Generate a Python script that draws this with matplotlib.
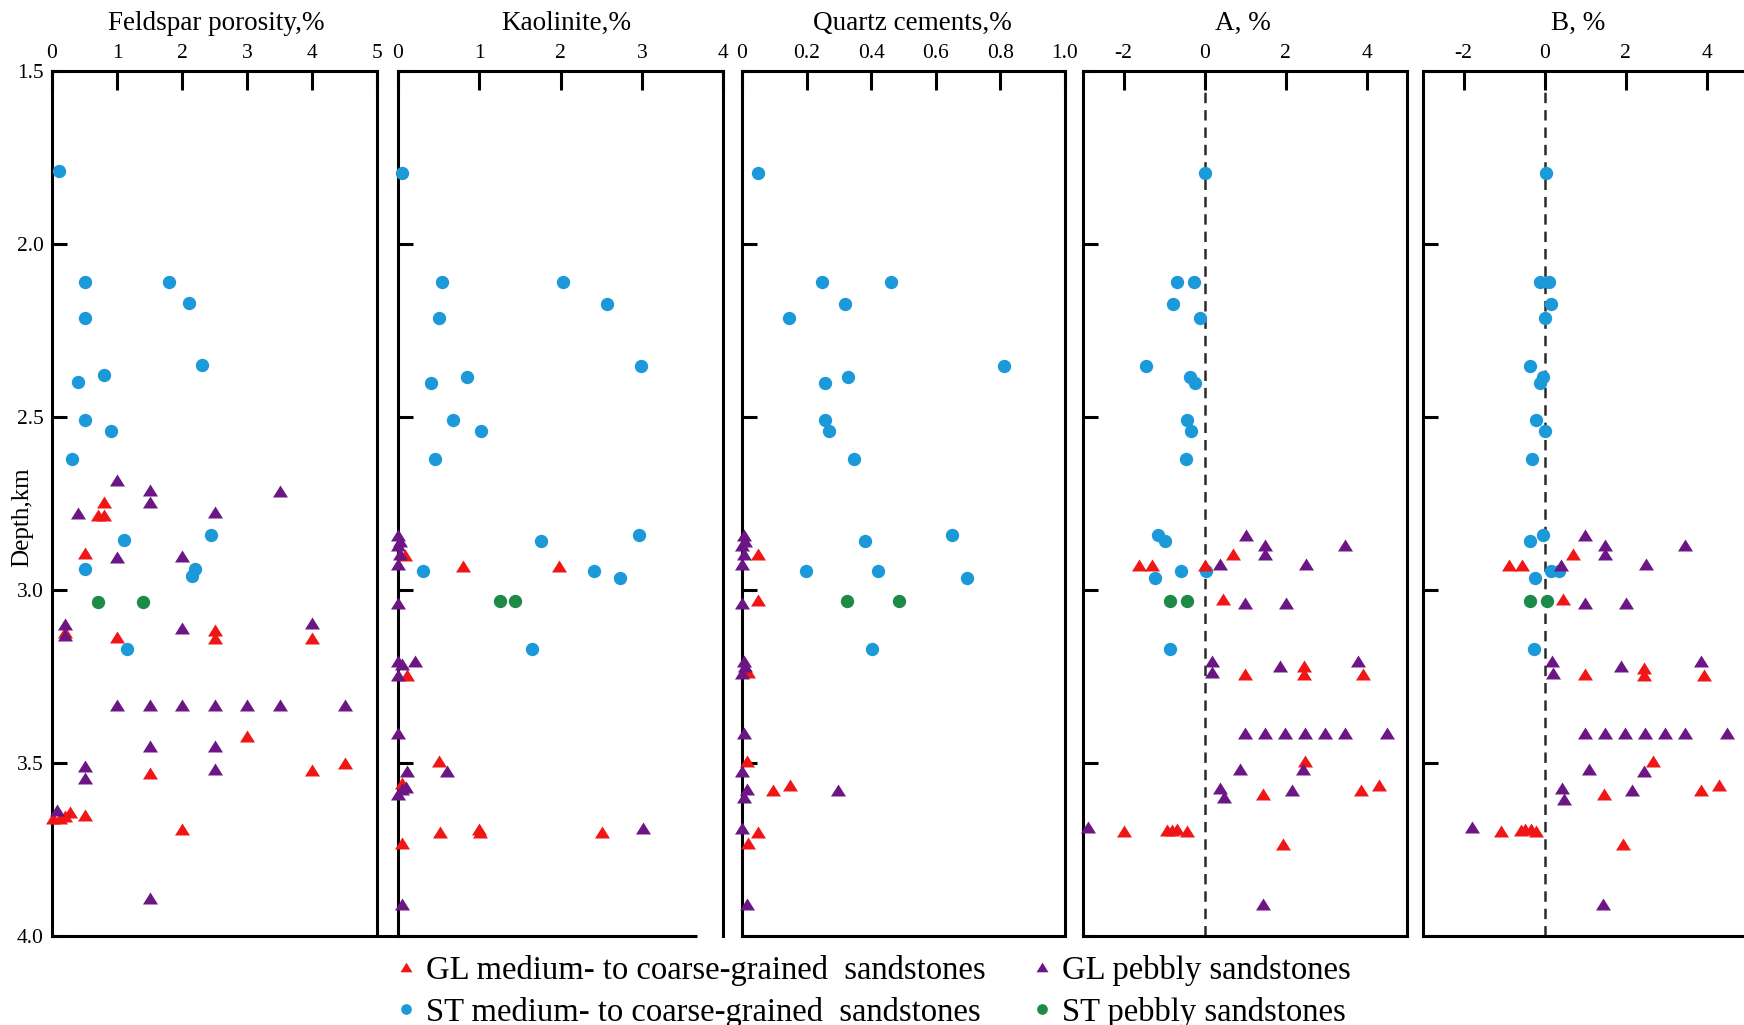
import matplotlib
matplotlib.use("Agg")
import matplotlib.pyplot as plt
from matplotlib.lines import Line2D

FONT = 'Liberation Serif'
plt.rcParams['font.family'] = FONT
plt.rcParams['lines.scale_dashes'] = False

W, H, DPI = 1744, 1025, 100

C_GL_MED = '#f01616'
C_GL_PEB = '#6c1584'
C_ST_MED = '#1c99d9'
C_ST_PEB = '#1d8b47'

# ---- Data: (depth km, value) pairs -------------------------------------
FELD_ST_MED = [(1.79, 0.1), (2.11, 0.5), (2.11, 1.8), (2.17, 2.1), (2.215, 0.5),
               (2.35, 2.3), (2.38, 0.8), (2.40, 0.4), (2.51, 0.5), (2.54, 0.9),
               (2.62, 0.3), (2.84, 2.45), (2.855, 1.1), (2.94, 0.5), (2.94, 2.2),
               (2.96, 2.15), (3.17, 1.15)]
FELD_ST_PEB = [(3.035, 0.7), (3.035, 1.4)]
FELD_GL_MED = [(2.745, 0.8), (2.783, 0.7), (2.783, 0.8), (2.894, 0.5), (3.12, 0.2),
               (3.137, 1.0), (3.116, 2.5), (3.140, 2.5), (3.140, 4.0), (3.422, 3.0),
               (3.530, 1.5), (3.520, 4.0), (3.501, 4.5), (3.658, 0.02), (3.658, 0.12),
               (3.652, 0.2), (3.642, 0.28), (3.650, 0.5), (3.69, 2.0)]
FELD_GL_PEB = [(2.682, 1.0), (2.711, 1.5), (2.745, 1.5), (2.713, 3.5), (2.778, 0.4),
               (2.774, 2.5), (2.904, 1.0), (2.902, 2.0), (3.098, 0.2), (3.130, 0.2),
               (3.111, 2.0), (3.094, 4.0), (3.332, 1.0), (3.332, 1.5), (3.332, 2.0),
               (3.332, 2.5), (3.332, 3.0), (3.332, 3.5), (3.332, 4.5), (3.451, 1.5),
               (3.451, 2.5), (3.509, 0.5), (3.543, 0.5), (3.518, 2.5), (3.636, 0.08),
               (3.891, 1.5)]

KAO_ST_MED = [(1.795, 0.05), (2.109, 0.54), (2.109, 2.03), (2.174, 2.57), (2.215, 0.50),
              (2.354, 2.99), (2.383, 0.85), (2.402, 0.41), (2.510, 0.68), (2.540, 1.02),
              (2.621, 0.46), (2.841, 2.97), (2.857, 1.76), (2.944, 0.31), (2.944, 2.41),
              (2.964, 2.73), (3.170, 1.65)]
KAO_ST_PEB = [(3.033, 1.26), (3.033, 1.44)]
KAO_GL_MED = [(2.90, 0.08), (2.932, 0.80), (2.932, 1.98), (3.245, 0.11), (3.494, 0.50),
              (3.558, 0.05), (3.700, 0.52), (3.692, 1.0), (3.700, 1.01), (3.700, 2.51),
              (3.732, 0.05)]
KAO_GL_PEB = [(2.841, 0.0), (2.857, 0.02), (2.871, 0.0), (2.895, 0.03), (2.924, 0.0),
              (3.037, 0.0), (3.205, 0.0), (3.215, 0.05), (3.205, 0.21), (3.245, 0.0),
              (3.414, 0.0), (3.523, 0.11), (3.523, 0.6), (3.575, 0.05), (3.570, 0.1),
              (3.590, 0.0), (3.687, 3.02), (3.907, 0.05)]

QTZ_ST_MED = [(1.795, 0.049), (2.109, 0.247), (2.109, 0.461), (2.174, 0.319), (2.215, 0.144),
              (2.354, 0.812), (2.383, 0.329), (2.402, 0.257), (2.510, 0.257), (2.540, 0.27),
              (2.621, 0.348), (2.841, 0.651), (2.857, 0.381), (2.944, 0.198), (2.944, 0.42),
              (2.964, 0.698), (3.170, 0.402)]
QTZ_ST_PEB = [(3.033, 0.324), (3.033, 0.487)]
QTZ_GL_MED = [(2.897, 0.05), (3.029, 0.05), (3.237, 0.02), (3.494, 0.015), (3.563, 0.15),
              (3.579, 0.097), (3.700, 0.05), (3.732, 0.02)]
QTZ_GL_PEB = [(2.841, 0.005), (2.857, 0.01), (2.871, 0.0), (2.895, 0.005), (2.924, 0.0),
              (3.037, 0.0), (3.205, 0.005), (3.22, 0.01), (3.24, 0.0), (3.414, 0.005),
              (3.523, 0.0), (3.575, 0.015), (3.598, 0.005), (3.579, 0.298), (3.687, 0.0),
              (3.907, 0.015)]

A_ST_MED = [(1.795, 0.0), (2.109, -0.67), (2.109, -0.25), (2.174, -0.78), (2.215, -0.12),
            (2.354, -1.45), (2.383, -0.37), (2.402, -0.24), (2.510, -0.43), (2.540, -0.34),
            (2.621, -0.45), (2.841, -1.14), (2.857, -0.98), (2.944, -0.59), (2.944, 0.03),
            (2.964, -1.21), (3.170, -0.86)]
A_ST_PEB = [(3.033, -0.84), (3.033, -0.44)]
A_GL_MED = [(2.929, -1.62), (2.929, -1.29), (2.929, 0.0), (2.895, 0.70), (3.025, 0.45),
            (3.242, 0.99), (3.221, 2.45), (3.242, 2.45), (3.242, 3.92), (3.494, 2.49),
            (3.590, 1.45), (3.579, 3.87), (3.563, 4.32), (3.697, -2.0), (3.695, -0.92),
            (3.695, -0.80), (3.690, -0.69), (3.697, -0.44), (3.735, 1.93)]
A_GL_PEB = [(2.841, 1.03), (2.871, 1.50), (2.895, 1.50), (2.871, 3.47), (2.924, 0.39),
            (2.924, 2.51), (3.037, 0.99), (3.037, 2.01), (3.205, 0.19), (3.237, 0.19),
            (3.221, 1.87), (3.205, 3.80), (3.414, 1.01), (3.414, 1.50), (3.414, 1.99),
            (3.414, 2.49), (3.414, 2.98), (3.414, 3.47), (3.414, 4.50), (3.518, 0.87),
            (3.518, 2.42), (3.572, 0.39), (3.598, 0.48), (3.579, 2.16), (3.684, -2.87),
            (3.907, 1.45)]

B_ST_MED = [(1.795, 0.04), (2.109, -0.1), (2.109, 0.1), (2.174, 0.16), (2.215, 0.02),
            (2.354, -0.36), (2.383, -0.04), (2.402, -0.12), (2.510, -0.2), (2.540, 0.0),
            (2.621, -0.3), (2.841, -0.03), (2.857, -0.37), (2.944, 0.15), (2.944, 0.35),
            (2.964, -0.24), (3.170, -0.26)]
B_ST_PEB = [(3.033, -0.36), (3.033, 0.07)]
B_GL_MED = [(2.929, -0.88), (2.929, -0.55), (2.897, 0.70), (3.025, 0.45), (3.242, 0.99),
            (3.224, 2.45), (3.245, 2.45), (3.245, 3.94), (3.494, 2.68), (3.590, 1.46),
            (3.579, 3.87), (3.563, 4.32), (3.697, -1.08), (3.695, -0.59), (3.690, -0.47),
            (3.690, -0.34), (3.697, -0.22), (3.735, 1.93)]
B_GL_PEB = [(2.841, 1.01), (2.871, 1.49), (2.895, 1.49), (2.871, 3.47), (2.929, 0.41),
            (2.924, 2.50), (3.037, 0.99), (3.037, 2.01), (3.205, 0.19), (3.240, 0.21),
            (3.221, 1.88), (3.205, 3.86), (3.414, 0.99), (3.414, 1.50), (3.414, 1.99),
            (3.414, 2.49), (3.414, 2.98), (3.414, 3.47), (3.414, 4.50), (3.518, 1.11),
            (3.523, 2.45), (3.572, 0.43), (3.603, 0.49), (3.579, 2.17), (3.684, -1.78),
            (3.907, 1.45)]

DEPTH_TICKS = [1.5, 2.0, 2.5, 3.0, 3.5, 4.0]
DEPTH_LABELS = ['1.5', '2.0', '2.5', '3.0', '3.5', '4.0']

TITLES = ['Feldspar porosity,%', 'Kaolinite,%', 'Quartz cements,%', 'A, %', 'B, %']
XLIMS = [(0, 5), (0, 4), (0, 1.0), (-3, 5), (-3, 5)]
XTICKS = [[0, 1, 2, 3, 4, 5], [0, 1, 2, 3, 4], [0, 0.2, 0.4, 0.6, 0.8, 1.0],
          [-2, 0, 2, 4], [-2, 0, 2, 4]]
XTICKLABELS = [['0', '1', '2', '3', '4', '5'], ['0', '1', '2', '3', '4'],
               ['0', '0.2', '0.4', '0.6', '0.8', '1.0'],
               ['-2', '0', '2', '4'], ['-2', '0', '2', '4']]
SERIES = [
    (FELD_ST_MED, FELD_ST_PEB, FELD_GL_MED, FELD_GL_PEB),
    (KAO_ST_MED, KAO_ST_PEB, KAO_GL_MED, KAO_GL_PEB),
    (QTZ_ST_MED, QTZ_ST_PEB, QTZ_GL_MED, QTZ_GL_PEB),
    (A_ST_MED, A_ST_PEB, A_GL_MED, A_GL_PEB),
    (B_ST_MED, B_ST_PEB, B_GL_MED, B_GL_PEB),
]

LEGEND_LABELS = ['GL medium- to coarse-grained  sandstones',
                 'ST medium- to coarse-grained  sandstones',
                 'GL pebbly sandstones',
                 'ST pebbly sandstones']

# ---- Layout (pixel geometry of the panels) -----------------------------
PANEL_X = [(52, 377), (398, 723), (742, 1065), (1083, 1407), (1423, 1747)]
TOP_PX, BOTTOM_PX = 71, 936
TITLE_X = [216, 566, 912, 1243, 1578]

TRI = [(-1, -0.8), (1, -0.8), (0, 0.8), (-1, -0.8)]
STYLES = [
    dict(marker='o', ms=9.6, color=C_ST_MED),
    dict(marker='o', ms=9.6, color=C_ST_PEB),
    dict(marker=TRI, ms=10.8, color=C_GL_MED),
    dict(marker=TRI, ms=10.8, color=C_GL_PEB),
]

LW = 2.2
TICK_FS = 15.5
TITLE_FS = 19.5
LEGEND_FS = 23.5

fig = plt.figure(figsize=(W / DPI, H / DPI), dpi=DPI)


def fx(px):
    return px / W


def fy(py):
    return 1 - py / H


for i, (x0, x1) in enumerate(PANEL_X):
    ax = fig.add_axes([fx(x0), fy(BOTTOM_PX), (x1 - x0) / W, (BOTTOM_PX - TOP_PX) / H])
    ax.set_xlim(*XLIMS[i])
    ax.set_ylim(4.0, 1.5)
    ax.xaxis.tick_top()
    ax.set_xticks(XTICKS[i])
    ax.set_xticklabels(XTICKLABELS[i], family=FONT)
    ax.set_yticks(DEPTH_TICKS)
    if i == 0:
        ax.set_yticklabels(DEPTH_LABELS, family=FONT)
    else:
        ax.set_yticklabels([])
    ax.tick_params(axis='x', which='both', direction='in', length=13.5, width=LW,
                   pad=5.5, labelsize=TICK_FS, top=True, bottom=False,
                   labeltop=True, labelbottom=False)
    ax.tick_params(axis='y', which='both', direction='in', length=10.5, width=LW,
                   pad=6.0, labelsize=TICK_FS, left=True, right=False,
                   labelleft=(i == 0))
    for sp in ax.spines.values():
        sp.set_linewidth(LW)
    if i in (0, 1):
        ax.spines['bottom'].set_visible(False)

    if i >= 3:
        ax.axvline(0, color='#2b2b2b', lw=1.8, dashes=(7.5, 5.0), zorder=1)

    for data, st in zip(SERIES[i], STYLES):
        depths = [d for d, v in data]
        vals = [v for d, v in data]
        ax.plot(vals, depths, ls='none', marker=st['marker'], ms=st['ms'],
                color=st['color'], mec='none', clip_on=False, zorder=3)

    fig.text(fx(TITLE_X[i]), fy(29.5), TITLES[i], ha='center', va='baseline',
             fontsize=TITLE_FS, family=FONT)

# shared bottom rule under the first two panels
fig.add_artist(Line2D([fx(52), fx(697)], [fy(BOTTOM_PX), fy(BOTTOM_PX)],
                      transform=fig.transFigure, color='black', lw=LW,
                      solid_capstyle='butt'))

fig.text(fx(22), fy(517), 'Depth,km', rotation=90, ha='center', va='center',
         fontsize=18, family=FONT)

# legend rows drawn in figure coordinates
LEG_POS = [(406, 967), (406, 1009), (1042, 967), (1042, 1009)]
LEG_STYLE = [STYLES[2], STYLES[0], STYLES[3], STYLES[1]]
for (px, py), st, lab in zip(LEG_POS, LEG_STYLE, LEGEND_LABELS):
    fig.add_artist(Line2D([fx(px)], [fy(py)], transform=fig.transFigure, ls='none',
                          marker=st['marker'], ms=st['ms'] * 0.8, color=st['color'],
                          mec='none'))
    fig.text(fx(px + 20), fy(py), lab, ha='left', va='center_baseline',
             fontsize=LEGEND_FS, family=FONT)

fig.savefig('out.png', dpi=DPI)
